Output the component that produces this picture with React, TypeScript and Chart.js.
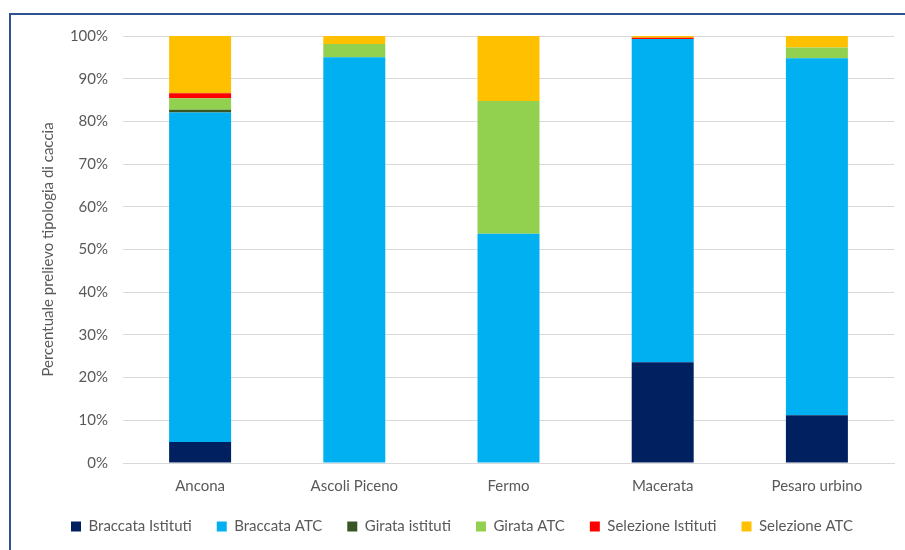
import React, { useEffect, useRef } from "react";
import { Chart, registerables } from "chart.js";

Chart.register(...registerables);

const categories = ["Ancona", "Ascoli Piceno", "Fermo", "Macerata", "Pesaro urbino"];
const braccataIstituti = [4.9, 0, 0, 23.6, 11.2];
const braccataATC = [77.2, 95.0, 53.7, 75.7, 83.6];
const girataIstituti = [0.6, 0, 0, 0, 0];
const girataATC = [2.7, 3.1, 31.1, 0, 2.5];
const selezioneIstituti = [1.2, 0, 0, 0.3, 0];
const selezioneATC = [13.4, 1.9, 15.2, 0.4, 2.7];
const yTicks = [0, 10, 20, 30, 40, 50, 60, 70, 80, 90, 100];

const FONT = "Lato, 'Open Sans', sans-serif";
const TEXT = "#595959";

export default function App() {
  const ref = useRef<HTMLCanvasElement | null>(null);
  useEffect(() => {
    if (!ref.current) return;
    const mk = (label: string, data: number[], color: string) => ({
      label,
      data,
      backgroundColor: color,
      borderWidth: 0,
      barPercentage: 0.402,
      categoryPercentage: 1,
    });
    const chart = new Chart(ref.current, {
      type: "bar",
      data: {
        labels: categories,
        datasets: [
          mk("Braccata Istituti", braccataIstituti, "#002060"),
          mk("Braccata ATC", braccataATC, "#00B0F0"),
          mk("Girata istituti", girataIstituti, "#375623"),
          mk("Girata ATC", girataATC, "#92D050"),
          mk("Selezione Istituti", selezioneIstituti, "#FF0000"),
          mk("Selezione ATC", selezioneATC, "#FFC000"),
        ],
      },
      options: {
        animation: false,
        responsive: false,
        devicePixelRatio: 1,
        layout: { padding: { left: 30, right: 11, top: 36, bottom: 6 } },
        plugins: {
          legend: {
            position: "bottom",
            labels: {
              boxWidth: 10,
              boxHeight: 10,
              padding: 25,
              color: TEXT,
              font: { family: FONT, size: 15 },
            },
          },
          tooltip: { enabled: false },
        },
        scales: {
          x: {
            stacked: true,
            grid: { display: false, drawTicks: false },
            border: { display: true, color: "#D9D9D9" },
            ticks: { color: TEXT, font: { family: FONT, size: 15 }, padding: 14 },
            afterFit: (s: any) => {
              s.height = 31;
            },
          },
          y: {
            stacked: true,
            min: 0,
            max: 100,
            afterBuildTicks: (s: any) => {
              s.ticks = yTicks.map((v) => ({ value: v }));
            },
            grid: { color: "#D9D9D9", drawTicks: false },
            border: { display: false },
            ticks: {
              color: TEXT,
              font: { family: FONT, size: 15 },
              padding: 15,
              callback: (v: any) => v + "%",
            },
            title: {
              display: true,
              text: "Percentuale prelievo tipologia di caccia",
              color: TEXT,
              font: { family: FONT, size: 15 },
              padding: { top: 9, bottom: 0 },
            },
            afterFit: (s: any) => {
              s.width = 93;
            },
          },
        },
      },
    });
    return () => chart.destroy();
  }, []);
  return (
    <div style={{ position: "fixed", left: 0, top: 0, width: 905, height: 550, background: "#fff", overflow: "hidden" }}>
      <div
        style={{
          position: "absolute",
          left: 9,
          top: 13,
          width: 920,
          height: 560,
          border: "2px solid #2F528F",
          boxSizing: "border-box",
        }}
      />
      <canvas ref={ref} width={905} height={550} style={{ position: "absolute", left: 0, top: 0 }} />
    </div>
  );
}
